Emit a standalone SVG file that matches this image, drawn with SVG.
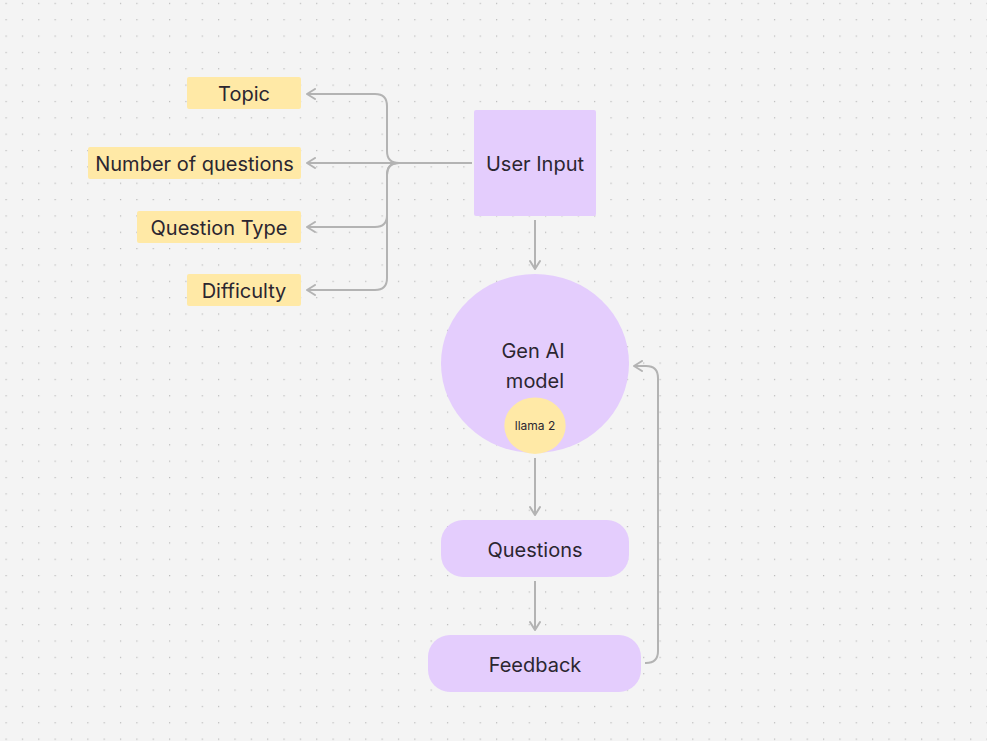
<svg xmlns="http://www.w3.org/2000/svg" width="987" height="741" viewBox="0 0 987 741">
<defs>
<pattern id="dots" x="5.5" y="2.8" width="16.35" height="16.35" patternUnits="userSpaceOnUse">
<rect x="0" y="0" width="1.2" height="1.2" fill="#b8b8b8"/>
</pattern>
<marker id="arr" viewBox="0 0 12 12" refX="10" refY="6" markerWidth="12" markerHeight="12" markerUnits="userSpaceOnUse" orient="auto">
<path d="M2,1 L10,6 L2,11" fill="none" stroke="#b3b3b3" stroke-width="2" stroke-linecap="round" stroke-linejoin="round"/>
</marker>
<style>
.lbl{font-family:Inter,"Liberation Sans",sans-serif;font-size:20px;fill:#2b2630;text-anchor:middle}
.small{font-family:Inter,"Liberation Sans",sans-serif;font-size:12px;fill:#2b2630;text-anchor:middle}
.yel{fill:#ffe9a6}
.pur{fill:#e4cdfd}
.con{fill:none;stroke:#b3b3b3;stroke-width:2}
</style>
</defs>
<rect width="987" height="741" fill="#f4f4f4"/>
<rect width="987" height="741" fill="url(#dots)"/>
<g id="connectors">
<path class="con" d="M472,163 H399 Q387,163 387,151 V106 Q387,94 375,94 H307" marker-end="url(#arr)"/>
<path class="con" d="M472,163 H307" marker-end="url(#arr)"/>
<path class="con" d="M472,163 H399 Q387,163 387,175 V215 Q387,227 375,227 H307" marker-end="url(#arr)"/>
<path class="con" d="M399,163 Q387,163 387,175 V278 Q387,290 375,290 H307" marker-end="url(#arr)"/>
<path class="con" d="M535,220 V269" marker-end="url(#arr)"/>
<path class="con" d="M535,458 V515" marker-end="url(#arr)"/>
<path class="con" d="M535,581 V630" marker-end="url(#arr)"/>
<path class="con" d="M645,663 H646 Q658,663 658,651 V378 Q658,366 646,366 H634" marker-end="url(#arr)"/>
</g>
<g id="topic"><rect class="yel" x="187" y="77" width="114" height="32" rx="2"/><text class="lbl" x="244" y="101">Topic</text></g>
<g id="num"><rect class="yel" x="88" y="147" width="213" height="32" rx="2"/><text class="lbl" x="194.5" y="171">Number of questions</text></g>
<g id="qtype"><rect class="yel" x="137" y="211" width="164" height="32" rx="2"/><text class="lbl" x="219" y="235">Question Type</text></g>
<g id="difficulty"><rect class="yel" x="187" y="274" width="114" height="32" rx="2"/><text class="lbl" x="244" y="298">Difficulty</text></g>
<g id="userinput"><rect class="pur" x="474" y="110" width="122" height="106" rx="2"/><text class="lbl" x="535" y="171">User Input</text></g>
<g id="genai"><ellipse class="pur" cx="535" cy="363.5" rx="94" ry="89.5"/><text class="lbl" x="533" y="358">Gen AI</text><text class="lbl" x="535" y="388">model</text></g>
<g id="llama"><ellipse class="yel" cx="535" cy="425.7" rx="30.7" ry="28.3"/><text class="small" x="535" y="430">llama 2</text></g>
<g id="questions"><rect class="pur" x="441" y="520" width="188" height="57" rx="22"/><text class="lbl" x="535" y="557">Questions</text></g>
<g id="feedback"><rect class="pur" x="428" y="635" width="213" height="57" rx="22"/><text class="lbl" x="535" y="672">Feedback</text></g>
</svg>
